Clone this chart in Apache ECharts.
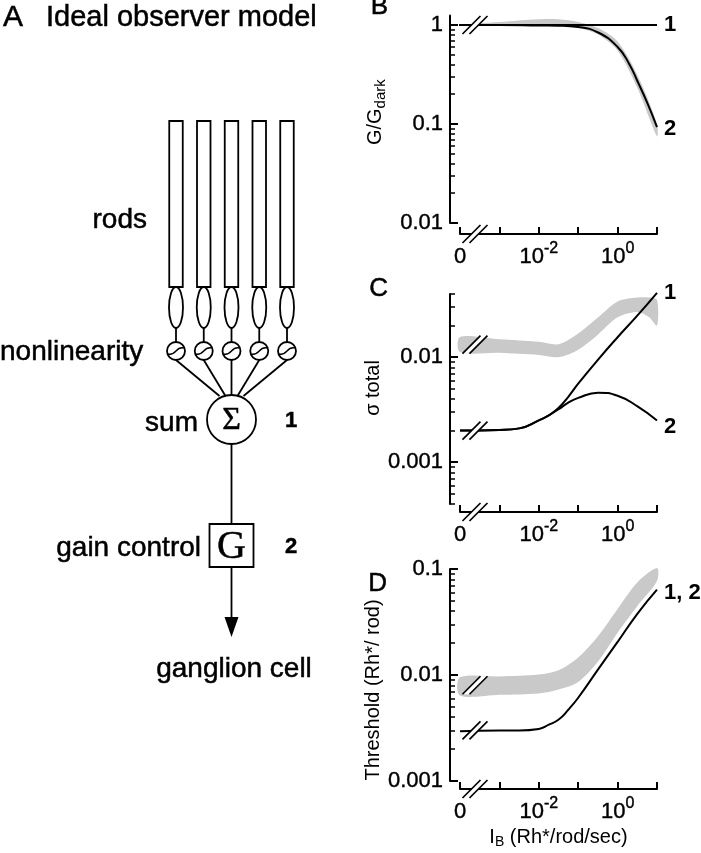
<!DOCTYPE html>
<html>
<head>
<meta charset="utf-8">
<script src="https://cdn.jsdelivr.net/npm/echarts@6/dist/echarts.min.js"></script>
<style>
html, body { margin: 0; padding: 0; background: #fff; }
#chart { width: 701px; height: 853px; }
</style>
</head>
<body>
<div id="chart"></div>
<script>
var FONT = '"Liberation Sans", Arial, Helvetica, sans-serif';
var SERIF = '"Liberation Serif", "DejaVu Serif", serif';

// x axis: background intensity, "0" is drawn at 1e-4 (left of the axis break)
var xTicks = [1e-4, 1e-3, 1e-2, 1e-1, 1, 10];
var xLabelVals = [1e-4, 1e-2, 1];
var xLabelText = ['{b|0}', '{b|10}{s|-2}', '{b|10}{s|0}'];
var breakX = 2.4e-4;

// panel B: G/Gdark
var bMajor = [0.01, 0.1, 1];
var bMinor = [0.02, 0.03, 0.04, 0.05, 0.06, 0.07, 0.08, 0.09, 0.2, 0.3, 0.4, 0.5, 0.6, 0.7, 0.8, 0.9];
var iB1 = [5.6e-5, 10];
var gB1 = [1, 1];
var iB2 = [1e-4, 1e-3, 1e-2, 3.2e-2, 0.1, 0.32, 1, 2, 3.2, 5.6, 10];
var gB2 = [1, 1, 0.99, 0.985, 0.955, 0.84, 0.6, 0.4, 0.27, 0.165, 0.093];
var iBBand = [3e-4, 1e-3, 1e-2, 3.2e-2, 0.1, 0.32, 1, 3.2, 10];
var bBandHi = [1.03, 1.07, 1.14, 1.14, 1.07, 0.93, 0.68, 0.31, 0.1];
var bBandLo = [1.0, 1.0, 1.0, 0.985, 0.94, 0.8, 0.55, 0.23, 0.075];

// panel C: sigma total
var cMajor = [0.001, 0.01];
var cMinor = [0.0004, 0.0005, 0.0006, 0.0007, 0.0008, 0.0009, 0.002, 0.003, 0.004, 0.005, 0.006, 0.007, 0.008, 0.009, 0.02, 0.03, 0.04];
var iC = [1e-4, 1e-3, 3.2e-3, 1e-2, 1.8e-2, 3.2e-2, 5.6e-2, 0.1, 0.32, 1, 3.2, 10];
var sC1 = [0.002, 0.00203, 0.0021, 0.0025, 0.0028, 0.0033, 0.0042, 0.0056, 0.0095, 0.0155, 0.025, 0.041];
var sC2 = [0.002, 0.00203, 0.0021, 0.0025, 0.0028, 0.0032, 0.0037, 0.0041, 0.0046, 0.0043, 0.0034, 0.0025];
var iCBand = [1e-4, 1e-3, 1e-2, 3.2e-2, 0.1, 0.32, 1, 3.2, 6.3, 10];
var cBandHi = [0.0156, 0.0148, 0.014, 0.0133, 0.0168, 0.024, 0.034, 0.037, 0.037, 0.035];
var cBandLo = [0.0112, 0.011, 0.0105, 0.0100, 0.0118, 0.0165, 0.024, 0.027, 0.024, 0.020];

// panel D: threshold
var dMajor = [0.001, 0.01, 0.1];
var dMinor = [0.002, 0.003, 0.004, 0.005, 0.006, 0.007, 0.008, 0.009, 0.02, 0.03, 0.04, 0.05, 0.06, 0.07, 0.08, 0.09];
var iD = [1e-4, 1e-3, 3.2e-3, 1e-2, 1.8e-2, 3.2e-2, 5.6e-2, 0.1, 0.32, 1, 3.2, 10];
var tD = [0.00295, 0.003, 0.003, 0.0031, 0.0034, 0.0038, 0.0047, 0.0061, 0.0113, 0.0205, 0.038, 0.064];
var iDBand = [1e-4, 1e-3, 1e-2, 3.2e-2, 0.1, 0.32, 1, 3.2, 10];
var dBandHi = [0.0095, 0.0097, 0.0101, 0.0111, 0.0146, 0.0233, 0.042, 0.075, 0.102];
var dBandLo = [0.0064, 0.0065, 0.0067, 0.0073, 0.0086, 0.0134, 0.025, 0.045, 0.077];

function zip(a, b) { return a.map(function (v, i) { return [v, b[i]]; }); }

function fmtY(v) { return String(+(+v).toPrecision(2)); }

var heavy = { textBorderColor: '#000', textBorderWidth: 0.4 };

function xAxisFor(g, off) {
  return {
    type: 'log', gridIndex: g, min: 1e-4, max: 10, offset: off,
    axisLine: { lineStyle: { color: '#000', width: 2 } },
    axisTick: { inside: true, length: 7, customValues: xTicks, lineStyle: { color: '#000', width: 2 } },
    axisLabel: {
      customValues: xLabelVals, margin: 7, color: '#000',
      formatter: function (v) {
        var k = Math.round(Math.log10(v));
        return k === -4 ? xLabelText[0] : k === -2 ? xLabelText[1] : xLabelText[2];
      },
      rich: {
        b: Object.assign({ fontSize: 22, fontFamily: FONT, color: '#000', lineHeight: 27, verticalAlign: 'bottom' }, heavy),
        s: Object.assign({ fontSize: 16, fontFamily: FONT, color: '#000', lineHeight: 15, verticalAlign: 'top' }, heavy)
      }
    },
    splitLine: { show: false }
  };
}

function yAxesFor(g, min, max, majors, minors, name, pad, rich) {
  return [{
    type: 'log', gridIndex: g, min: min, max: max, offset: 10, position: 'left',
    axisLine: { lineStyle: { color: '#000', width: 2 } },
    axisTick: { inside: true, length: 8, customValues: majors, lineStyle: { color: '#000', width: 2 } },
    axisLabel: Object.assign({ customValues: majors, margin: 7, fontSize: 22, fontFamily: FONT, color: '#000', formatter: fmtY }, heavy),
    splitLine: { show: false },
    name: name, nameLocation: 'middle', nameGap: 62,
    nameTextStyle: { fontSize: 20, fontFamily: FONT, color: '#000', padding: pad, rich: rich }
  }, {
    type: 'log', gridIndex: g, min: min, max: max, offset: 10, position: 'left',
    axisLine: { show: false },
    axisTick: { inside: true, length: 5, customValues: minors, lineStyle: { color: '#000', width: 1.5 } },
    axisLabel: { show: false },
    splitLine: { show: false }
  }];
}

function bandSeries(g, xs, lo, hi) {
  return {
    type: 'custom', xAxisIndex: g, yAxisIndex: g * 2, clip: false, z: 1,
    data: xs.map(function (x, i) { return [x, lo[i], hi[i]]; }),
    renderItem: function (params, api) {
      if (params.dataIndex !== 0) return;
      var pts = [];
      for (var i = 0; i < xs.length; i++) pts.push(api.coord([xs[i], hi[i]]));
      for (var j = xs.length - 1; j >= 0; j--) pts.push(api.coord([xs[j], lo[j]]));
      return { type: 'polygon', shape: { points: pts, smooth: 0.3 }, style: { fill: '#c9c9c9' } };
    }
  };
}

function slashes(c) {
  var d = 3.5, h = 9, w = 9;
  return [
    { type: 'polygon', shape: { points: [[c[0] - d - w, c[1] + h], [c[0] - d + w, c[1] - h], [c[0] + d + w, c[1] - h], [c[0] + d - w, c[1] + h]] }, style: { fill: '#fff' } },
    { type: 'line', shape: { x1: c[0] - d - w, y1: c[1] + h, x2: c[0] - d + w, y2: c[1] - h }, style: { stroke: '#000', lineWidth: 1.7 } },
    { type: 'line', shape: { x1: c[0] + d - w, y1: c[1] + h, x2: c[0] + d + w, y2: c[1] - h }, style: { stroke: '#000', lineWidth: 1.7 } }
  ];
}

// break marks on curves (ys) and on the x axis (placed at axis min, shifted by the axis offset)
function breakSeries(g, ys, yMin, axisOff) {
  var data = ys.map(function (y) { return [breakX, y, 0]; });
  data.push([breakX, yMin, axisOff]);
  return {
    type: 'custom', xAxisIndex: g, yAxisIndex: g * 2, clip: false, z: 5,
    data: data,
    renderItem: function (params, api) {
      var c = api.coord([api.value(0), api.value(1)]);
      c[1] += api.value(2);
      return { type: 'group', children: slashes(c) };
    }
  };
}

function lineSeries(g, xs, ys, label, off) {
  return {
    type: 'line', xAxisIndex: g, yAxisIndex: g * 2, data: zip(xs, ys),
    smooth: 0.5, showSymbol: false, clip: false, z: 3,
    lineStyle: { color: '#000', width: 2 },
    endLabel: label ? { show: true, formatter: label, distance: 7, offset: off || [0, 0], fontSize: 22, fontWeight: 'bold', fontFamily: FONT, color: '#000' } : { show: false }
  };
}

// ---- schematic (panel A) ----
var gfx = [];
function txt(x, y, s, font, align) {
  gfx.push({ type: 'text', x: x, y: y, style: { text: s, font: font, fill: '#000', stroke: '#000', lineWidth: 0.5, align: align || 'left', verticalAlign: 'middle' } });
}
var LW = 1.8;
var stroke = { stroke: '#000', lineWidth: LW, fill: '#fff' };
var cxs = [176, 203.75, 231.5, 259.25, 287];
function cy0(d) { return 351 + d; }
cxs.forEach(function (cx, i) {
  gfx.push({ type: 'rect', shape: { x: cx - 6.75, y: 121, width: 13.5, height: 166 }, style: stroke });
  gfx.push({ type: 'ellipse', shape: { cx: cx, cy: 307.5, rx: 7, ry: 20.5 }, style: stroke });
  gfx.push({ type: 'line', shape: { x1: cx, y1: 328, x2: cx, y2: 342 }, style: { stroke: '#000', lineWidth: LW } });
  gfx.push({ type: 'line', shape: { x1: cx, y1: 360, x2: 231.5 + (i - 2) * 6, y2: 396 }, style: { stroke: '#000', lineWidth: LW } });
  gfx.push({ type: 'circle', shape: { cx: cx, cy: 351, r: 9 }, style: stroke });
  gfx.push({ type: 'bezierCurve', shape: { x1: cx - 8, y1: cy0(3), cpx1: cx + 1, cpy1: cy0(5), cpx2: cx - 1, cpy2: cy0(-5), x2: cx + 8, y2: cy0(-3) }, style: { stroke: '#000', lineWidth: 1.4, fill: null } });
});
gfx.push({ type: 'circle', shape: { cx: 231.5, cy: 419.5, r: 24.5 }, style: stroke });
gfx.push({ type: 'line', shape: { x1: 231.5, y1: 444, x2: 231.5, y2: 524 }, style: { stroke: '#000', lineWidth: LW } });
gfx.push({ type: 'rect', shape: { x: 209.5, y: 524, width: 44, height: 43 }, style: stroke });
gfx.push({ type: 'line', shape: { x1: 231.5, y1: 567, x2: 231.5, y2: 622 }, style: { stroke: '#000', lineWidth: LW } });
gfx.push({ type: 'polygon', shape: { points: [[224.5, 617], [238.5, 617], [231.5, 637]] }, style: { fill: '#000' } });
txt(231.5, 421, '\u03A3', '32px ' + SERIF, 'center');
txt(231.5, 547, 'G', '40px ' + SERIF, 'center');
txt(3, 18, 'A', '30px ' + FONT);
txt(46, 18, 'Ideal observer model', '29px ' + FONT);
txt(147, 220, 'rods', '28px ' + FONT, 'right');
txt(0, 352, 'nonlinearity', '28px ' + FONT);
txt(198, 423, 'sum', '28px ' + FONT, 'right');
txt(291, 421, '1', 'bold 22px ' + FONT, 'center');
txt(201, 548, 'gain control', '28px ' + FONT, 'right');
txt(291, 547, '2', 'bold 22px ' + FONT, 'center');
txt(234, 669, 'ganglion cell', '28px ' + FONT, 'center');
txt(388, 7, 'B', '26px ' + FONT, 'right');
txt(388, 289, 'C', '26px ' + FONT, 'right');
txt(387, 584, 'D', '26px ' + FONT, 'right');

var chart = echarts.init(document.getElementById('chart'), null, { renderer: 'canvas' });
var yB = yAxesFor(0, 0.01, 1.25, bMajor, bMinor, '{m|G/G}{sub|dark}', [0, 0, 0, 14], {
  m: { fontSize: 20, fontFamily: FONT, color: '#000', verticalAlign: 'top', lineHeight: 23 },
  sub: { fontSize: 15, fontFamily: FONT, color: '#000', verticalAlign: 'bottom', lineHeight: 14 }
});
var yC = yAxesFor(1, 0.0004, 0.04, cMajor, cMinor, '\u03C3 total', [0, 0, 0, 22]);
var yD = yAxesFor(2, 0.001, 0.1, dMajor, dMinor, 'Threshold (Rh*/ rod)', [0, 30, 0, 0]);
var xD = xAxisFor(2, 8);
xD.name = '{m|I}{sub|B}{m| (Rh*/rod/sec)}';
xD.nameLocation = 'middle';
xD.nameGap = 38;
xD.nameTextStyle = {
  rich: {
    m: { fontSize: 20, fontFamily: FONT, color: '#000', verticalAlign: 'top', lineHeight: 22 },
    sub: { fontSize: 14, fontFamily: FONT, color: '#000', verticalAlign: 'bottom', lineHeight: 12 }
  }
};

chart.setOption({
  animation: false,
  backgroundColor: '#fff',
  grid: [
    { left: 460, right: 44, top: 15.4, height: 207.6, outerBoundsMode: 'none' },
    { left: 460, right: 44, top: 294, height: 210, outerBoundsMode: 'none' },
    { left: 460, right: 44, top: 569, height: 212, outerBoundsMode: 'none' }
  ],
  xAxis: [xAxisFor(0, 11), xAxisFor(1, 8), xD],
  yAxis: yB.concat(yC, yD),
  graphic: gfx,
  series: [
    bandSeries(0, iBBand, bBandLo, bBandHi),
    lineSeries(0, iB1, gB1, '1'),
    lineSeries(0, iB2, gB2, '2', [0, 2]),
    breakSeries(0, [1], 0.01, 11),
    bandSeries(1, iCBand, cBandLo, cBandHi),
    lineSeries(1, iC, sC1, '1'),
    lineSeries(1, iC, sC2, '2', [0, 7]),
    breakSeries(1, [0.0132, 0.002], 0.0004, 8),
    bandSeries(2, iDBand, dBandLo, dBandHi),
    lineSeries(2, iD, tD, '1, 2', [0, 3]),
    breakSeries(2, [0.008, 0.003], 0.001, 8)
  ]
});
</script>
</body>
</html>
